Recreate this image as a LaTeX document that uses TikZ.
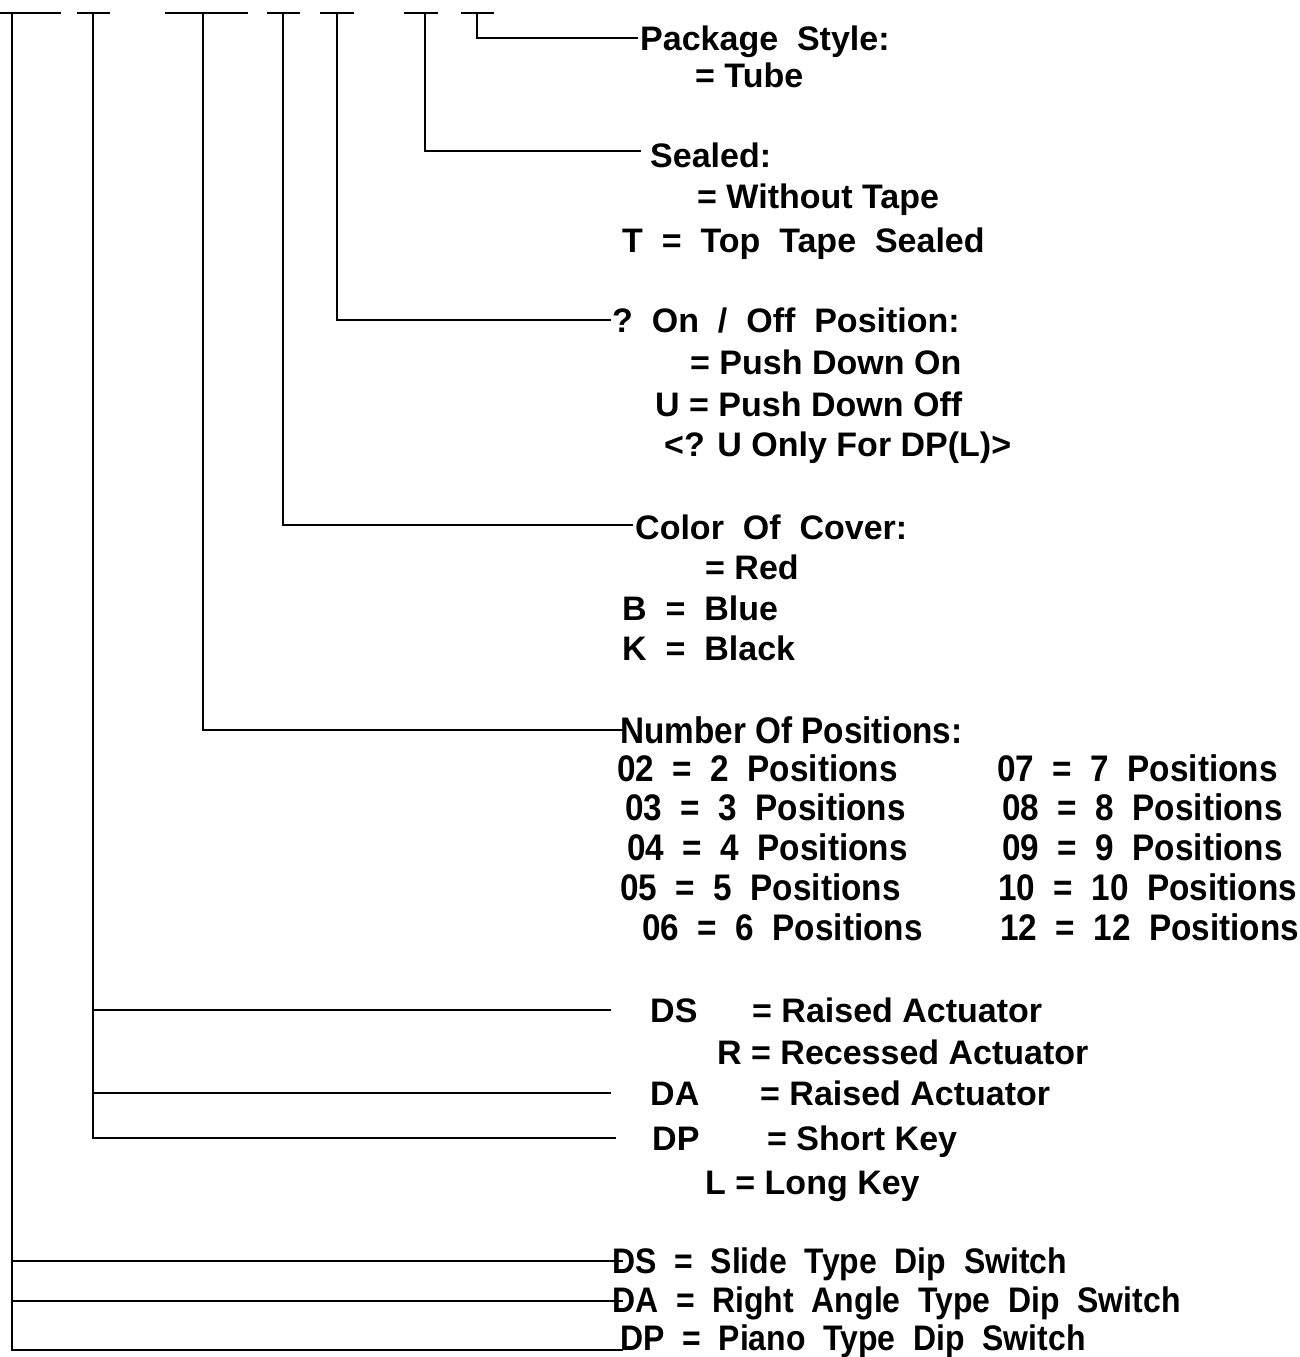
\documentclass[tikz,border=0pt]{standalone}
\usepackage{fontspec}
\setmainfont{Liberation Sans}
\newfontfamily\narfont[FakeStretch=0.9]{Liberation Sans}
\begin{document}
\begin{tikzpicture}[x=1pt,y=-1pt,
  ln/.style={line width=1.6pt,line cap=rect},
  lbl/.style={anchor=base west,inner sep=0pt,font=\fontsize{34}{36}\selectfont\bfseries},
  nar/.style={anchor=base west,inner sep=0pt,font=\fontsize{37}{40}\selectfont\bfseries\narfont},
  narb/.style={anchor=base west,inner sep=0pt,font=\fontsize{35.5}{38}\selectfont\bfseries\narfont}]
\useasboundingbox[fill=white] (0,0) rectangle (1299,1357);
% top bars
\foreach \a/\b in {0/60,78/109,166/247,268/299,321/353,405/437,462/493}
  \draw[ln] (\a,13) -- (\b,13);
% coordinates at top of verticals
\coordinate (v1) at (12,13);
\coordinate (v2) at (93,13);
\coordinate (v3) at (203,13);
\coordinate (v4) at (283,13);
\coordinate (v5) at (337,13);
\coordinate (v6) at (425,13);
\coordinate (v7) at (477,13);
% line ends
\coordinate (e7) at (637,38);
\coordinate (e6) at (640,151);
\coordinate (e5) at (610,320);
\coordinate (e4) at (632,525);
\coordinate (e3) at (625,730);
\coordinate (e2a) at (610,1010);
\coordinate (e2b) at (610,1093);
\coordinate (e2c) at (615,1138);
\coordinate (e1a) at (622,1261);
\coordinate (e1b) at (622,1301);
\coordinate (e1c) at (622,1350);
% texts
\node[lbl] (ps) at (640,50) {Package\ \ Style:};
\node[lbl] (ps1) at (695,87) {= Tube};
\node[lbl] (se) at (650,167) {Sealed:};
\node[lbl] (se1) at (697,208) {= Without Tape};
\node[lbl] (se2) at (622,252) {T\ \ =\ \ Top\ \ Tape\ \ Sealed};
\node[lbl] (oo) at (612,332) {?\ \ On\ \ /\ \ Off\ \ Position:};
\node[lbl] (oo1) at (690,374) {= Push Down On};
\node[lbl] (oo2) at (655,416) {U = Push Down Off};
\node[lbl] (oo3) at (664,456) {<? U Only For DP(L)>};
\node[lbl] (cc) at (635,539) {Color\ \ Of\ \ Cover:};
\node[lbl] (cc1) at (705,579) {= Red};
\node[lbl] (cc2) at (622,620) {B\ \ =\ \ Blue};
\node[lbl] (cc3) at (622,660) {K\ \ =\ \ Black};
\node[nar] (np) at (620,743) {Number Of Positions:};
\node[nar] (n02) at (617,781) {02\ \ =\ \ 2\ \ Positions};
\node[nar] (n03) at (625,820) {03\ \ =\ \ 3\ \ Positions};
\node[nar] (n04) at (627,860) {04\ \ =\ \ 4\ \ Positions};
\node[nar] (n05) at (620,900) {05\ \ =\ \ 5\ \ Positions};
\node[nar] (n06) at (642,940) {06\ \ =\ \ 6\ \ Positions};
\node[nar] (n07) at (997,781) {07\ \ =\ \ 7\ \ Positions};
\node[nar] (n08) at (1002,820) {08\ \ =\ \ 8\ \ Positions};
\node[nar] (n09) at (1002,860) {09\ \ =\ \ 9\ \ Positions};
\node[nar] (n10) at (998,900) {10\ \ =\ \ 10\ \ Positions};
\node[nar] (n12) at (1000,940) {12\ \ =\ \ 12\ \ Positions};
\node[lbl] (ds) at (650,1022) {DS};
\node[lbl] (ds1) at (752,1022) {= Raised Actuator};
\node[lbl] (ds2) at (717,1064) {R = Recessed Actuator};
\node[lbl] (da) at (650,1105) {DA};
\node[lbl] (da1) at (760,1105) {= Raised Actuator};
\node[lbl] (dp) at (652,1150) {DP};
\node[lbl] (dp1) at (767,1150) {= Short Key};
\node[lbl] (dp2) at (705,1194) {L = Long Key};
\node[narb] (t1) at (612,1273) {DS\ \ =\ \ Slide\ \ Type\ \ Dip\ \ Switch};
\node[narb] (t2) at (612,1312) {DA\ \ =\ \ Right\ \ Angle\ \ Type\ \ Dip\ \ Switch};
\node[narb] (t3) at (620,1350) {DP\ \ =\ \ Piano\ \ Type\ \ Dip\ \ Switch};
% connectors
\draw[ln] (v7) |- (e7);
\draw[ln] (v6) |- (e6);
\draw[ln] (v5) |- (e5);
\draw[ln] (v4) |- (e4);
\draw[ln] (v3) |- (e3);
\draw[ln] (v2) |- (e2c);
\draw[ln] (v2 |- e2a) -- (e2a);
\draw[ln] (v2 |- e2b) -- (e2b);
\draw[ln] (v1) |- (e1c);
\draw[ln] (v1 |- e1a) -- (e1a);
\draw[ln] (v1 |- e1b) -- (e1b);
\end{tikzpicture}
\end{document}
